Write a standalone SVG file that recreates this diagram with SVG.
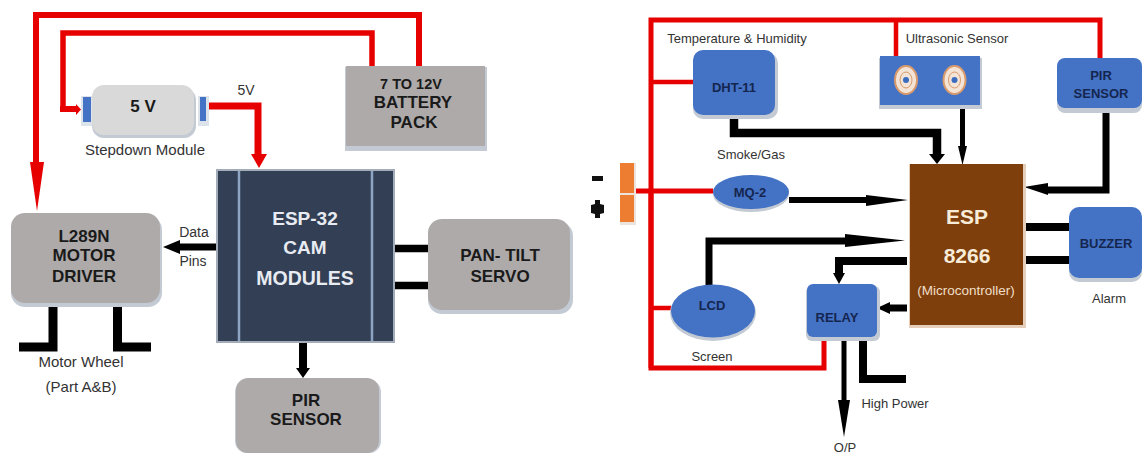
<svg xmlns="http://www.w3.org/2000/svg" width="1142" height="453" viewBox="0 0 1142 453">
<style>
text{font-family:"Liberation Sans",Arial,sans-serif;text-anchor:middle}
.b{font-weight:bold;fill:#1a1a1a;font-size:17px}
.l{fill:#333;font-size:15px}
.s{fill:#333;font-size:13px}
.w{font-weight:bold;fill:#e8ecf2;font-size:19px}
.bl{font-weight:bold;fill:#14264f;font-size:13px}
.e{font-weight:bold;fill:#f7ecd8;font-size:21px}
.gray{fill:#aeaaaa}
.blue{fill:#4472c4}
.red{fill:none;stroke:#e60000;stroke-linejoin:miter}
.blk{fill:none;stroke:#000;stroke-linejoin:miter}
.shadow{fill:#c3cad3}
.rh{fill:#e60000}
</style>
<rect width="1142" height="453" fill="#fff"/>
<g id="connectors">
<path class="red" stroke-width="6" d="M36 165V15H419V67"/>
<path class="red" stroke-width="5.500" d="M63 109V33H372V67"/>
<path class="red" stroke-width="6" d="M60 109H77"/>
<path class="rh" d="M76 104L81 109.500L76 115Z"/>
<path class="red" stroke-width="7" d="M208 106H258V156"/>
<path class="rh" d="M251 154H267L259 168Z"/>
<path class="rh" d="M30 162H44L37 211Z"/>
<path class="blk" stroke-width="7" d="M216 247H178"/>
<path d="M180 240V254L163 247Z"/>
<path class="blk" stroke-width="9" d="M53 305V347H19"/>
<path class="blk" stroke-width="9" d="M117.500 305V347H151"/>
<path class="blk" stroke-width="7.500" d="M394 248.500H428M394 285.500H428"/>
<path class="blk" stroke-width="8" d="M303 343V370"/>
<path d="M296 368H310L303 378Z"/>
<path class="red" stroke-width="5" d="M651 368V20H1100V58"/>
<path class="red" stroke-width="4.500" d="M896 20V56M651 82H693M651 308H671"/>
<path class="red" stroke-width="5" d="M636 191H713M651 191V368H824V338"/>
<path class="blk" stroke-width="8.500" d="M734 115V133H937V156"/>
<path d="M929 154H945L937 164Z"/>
<path class="blk" stroke-width="5" d="M962.500 105V150"/>
<path d="M958 146H967L962.500 165Z"/>
<path class="blk" stroke-width="7" d="M1106 108V190H1045"/>
<path d="M1048 183V195L1024 187Z"/>
<path class="blk" stroke-width="6" d="M789 200H870"/>
<path d="M866 195V206L908 200Z"/>
<path class="blk" stroke-width="7" d="M709 285V241H850"/>
<path d="M845 234V247L905 240.500Z"/>
<path class="blk" stroke-width="8" d="M907 261H839V275"/>
<path d="M833 273H845L839 284Z"/>
<path class="blk" stroke-width="7" d="M907 308H888"/>
<path d="M890 302V314L877 308Z"/>
<path class="blk" stroke-width="8" d="M1022 227H1070M1022 260H1070"/>
<path class="blk" stroke-width="5" d="M844 338V402"/>
<path d="M838 400H850L844 437Z"/>
<path class="blk" stroke-width="8" d="M863 338V379H906"/>
</g>
<g id="battery">
<rect x="345" y="67" width="142" height="84" class="shadow"/>
<rect x="346" y="66" width="139" height="80" class="gray"/>
<text x="411" y="89" class="b" style="font-size:14.500px">7 TO 12V</text>
<text x="413" y="108" class="b">BATTERY</text>
<text x="414" y="128" class="b">PACK</text>
</g>
<g id="stepdown">
<rect x="92" y="88" width="104" height="50" rx="12" class="shadow"/>
<rect x="92" y="85" width="102" height="50" rx="12" fill="#d9d9d9"/>
<rect x="81" y="96" width="11" height="30" fill="#dde3ea"/>
<rect x="83" y="97" width="8" height="25" class="blue"/>
<rect x="198" y="96" width="11" height="30" fill="#dde3ea"/>
<rect x="200" y="97" width="6" height="24" class="blue"/>
<text x="143" y="112" class="b">5 V</text>
<text x="145" y="155" class="l">Stepdown Module</text>
</g>
<text x="246" y="95" class="l" style="font-size:14px">5V</text>
<g id="esp32">
<rect x="216" y="169" width="179" height="174" fill="#a3adb9"/>
<rect x="218" y="171" width="175" height="170" fill="#323f54"/>
<path d="M239 171V341M372 171V341" stroke="#8da5c2" stroke-width="2.500"/>
<text x="305" y="225" class="w">ESP-32</text>
<text x="305" y="254" class="w">CAM</text>
<text x="305" y="285" class="w" style="font-size:19.500px">MODULES</text>
</g>
<g id="motor-driver">
<rect x="11" y="216" width="151" height="91" rx="14" class="shadow"/>
<rect x="11" y="213" width="149" height="90" rx="14" class="gray"/>
<text x="84" y="242" class="b">L289N</text>
<text x="84" y="261" class="b">MOTOR</text>
<text x="84" y="282" class="b">DRIVER</text>
</g>
<text x="194" y="237" class="l" style="font-size:14px">Data</text>
<text x="193" y="266" class="l" style="font-size:14px">Pins</text>
<g id="servo">
<rect x="428" y="222" width="145" height="92" rx="14" class="shadow"/>
<rect x="428" y="219" width="142" height="91" rx="14" class="gray"/>
<text x="500" y="261" class="b">PAN- TILT</text>
<text x="500" y="282" class="b">SERVO</text>
</g>
<g id="motor-wheel">
<text x="81" y="367" class="l">Motor Wheel</text>
<text x="81" y="392" class="l">(Part A&amp;B)</text>
</g>
<g id="pir-left">
<rect x="235" y="380" width="146" height="73" rx="12" class="shadow"/>
<rect x="236" y="378" width="143" height="75" rx="12" class="gray"/>
<text x="306" y="406" class="b">PIR</text>
<text x="306" y="425" class="b">SENSOR</text>
</g>
<g id="dht11">
<text x="737" y="43" class="s">Temperature &amp; Humidity</text>
<rect x="693" y="53" width="85" height="66" rx="10" class="shadow"/>
<rect x="693" y="50" width="82" height="65" rx="10" class="blue"/>
<text x="734" y="92" class="bl">DHT-11</text>
</g>
<g id="ultrasonic">
<text x="957" y="43" class="s">Ultrasonic Sensor</text>
<rect x="879" y="58" width="103" height="51" class="shadow"/>
<rect x="880" y="56" width="100" height="49" class="blue"/>
<ellipse cx="906" cy="80" rx="11" ry="14" fill="#f4e4d6" stroke="#d99a6c" stroke-width="2"/>
<ellipse cx="906" cy="80" rx="6" ry="8" fill="#f4e4d6" stroke="#d99a6c"/>
<circle cx="906" cy="80" r="3" fill="#3b6cc0"/>
<ellipse cx="954.500" cy="80" rx="11" ry="14" fill="#f4e4d6" stroke="#d99a6c" stroke-width="2"/>
<ellipse cx="954.500" cy="80" rx="6" ry="8" fill="#f4e4d6" stroke="#d99a6c"/>
<circle cx="954.500" cy="80" r="3" fill="#3b6cc0"/>
</g>
<g id="pir-right">
<rect x="1057" y="61" width="85" height="52" rx="8" class="shadow"/>
<rect x="1057" y="58" width="85" height="50" rx="8" class="blue"/>
<text x="1101" y="80" class="bl">PIR</text>
<text x="1101" y="98" class="bl">SENSOR</text>
</g>
<g id="mq2">
<text x="751" y="159" class="s">Smoke/Gas</text>
<ellipse cx="751" cy="194" rx="38" ry="18" class="shadow"/>
<ellipse cx="751" cy="192" rx="38" ry="17" class="blue"/>
<text x="750" y="197" class="bl">MQ-2</text>
</g>
<g id="power-terminal">
<rect x="620" y="163" width="16" height="62" fill="#ece4dc"/>
<rect x="620" y="163" width="14" height="30" fill="#ed7d31"/>
<rect x="620" y="195" width="14" height="27" fill="#ed7d31"/>
<rect x="592" y="176" width="11" height="5" fill="#111"/>
<path d="M595 200H600V204L604 205V213L600 214V218H595V214L591 213V205L595 204Z" fill="#111"/>
</g>
<g id="esp8266">
<rect x="909" y="164" width="117" height="164" fill="#e5cfba"/>
<rect x="910" y="164" width="113" height="161" fill="#7f3f0c"/>
<text x="967" y="224" class="e">ESP</text>
<text x="967" y="263" class="e">8266</text>
<text x="966" y="295" fill="#f0dfc8" style="font-size:13.500px">(Microcontroller)</text>
</g>
<g id="buzzer">
<rect x="1069" y="210" width="73" height="72" rx="10" class="shadow"/>
<rect x="1069" y="207" width="73" height="71" rx="10" class="blue"/>
<text x="1106" y="248" class="bl">BUZZER</text>
<text x="1109" y="303" class="s">Alarm</text>
</g>
<g id="lcd">
<ellipse cx="713" cy="313" rx="43" ry="28" class="shadow"/>
<ellipse cx="713" cy="311" rx="42" ry="26.500" class="blue"/>
<text x="712" y="310" class="bl">LCD</text>
<text x="712" y="361" class="s">Screen</text>
</g>
<g id="relay">
<rect x="806" y="286" width="74" height="55" rx="6" class="shadow"/>
<rect x="807" y="284" width="70" height="53" rx="6" class="blue"/>
<text x="837" y="322" class="bl">RELAY</text>
</g>
<text x="895" y="408" class="s">High Power</text>
<text x="845" y="452" class="s">O/P</text>
</svg>
